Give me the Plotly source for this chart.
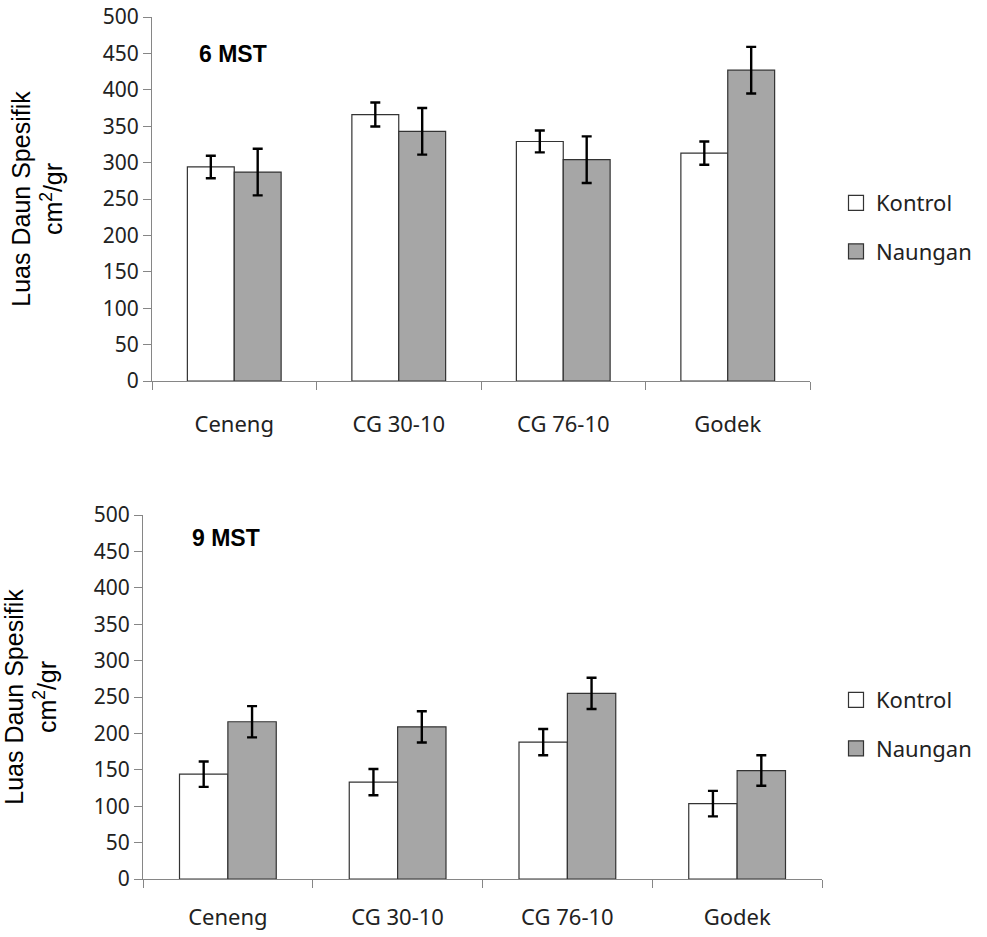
import plotly.graph_objects as go

categories = ["Ceneng", "CG 30-10", "CG 76-10", "Godek"]

# 6 MST (weeks after planting)
kontrol_6 = [294, 366, 329, 313]
kontrol_6_err = [15.5, 16.5, 15, 16]
naungan_6 = [287, 343, 304, 427]
naungan_6_err = [32, 32, 32, 32]

# 9 MST
kontrol_9 = [144, 133, 188, 103.5]
kontrol_9_err = [17.5, 18, 18, 17.5]
naungan_9 = [216, 209, 255, 149]
naungan_9_err = [21.5, 21.5, 21.5, 21]

y_ticks = list(range(0, 501, 50))
panel_labels = ["6 MST", "9 MST"]
series_names = ["Kontrol", "Naungan"]

W, H = 987, 937
WHITE = "#FFFFFF"
GREY = "#A6A6A6"
AXIS_GREY = "#868686"
EDGE = "#333333"
SANS = "Noto Sans, Open Sans, sans-serif"
ARIAL = "Liberation Sans, Arial, sans-serif"

fig = go.Figure()

panels = [
    (kontrol_6, kontrol_6_err, naungan_6, naungan_6_err, "x", "y", "legend"),
    (kontrol_9, kontrol_9_err, naungan_9, naungan_9_err, "x2", "y2", "legend2"),
]

for k_vals, k_err, n_vals, n_err, xa, ya, leg in panels:
    for name, vals, errs, fill in [
        (series_names[0], k_vals, k_err, WHITE),
        (series_names[1], n_vals, n_err, GREY),
    ]:
        fig.add_trace(go.Bar(
            x=categories, y=vals, name=name,
            xaxis=xa, yaxis=ya, showlegend=False,
            marker=dict(color=fill, line=dict(color=EDGE, width=1.2)),
            error_y=dict(type="data", array=errs, visible=True,
                         color="#000000", thickness=2.4, width=5),
        ))
    # legend keys with a larger square swatch
    for i, (name, fill) in enumerate([(series_names[0], WHITE), (series_names[1], GREY)]):
        fig.add_trace(go.Scatter(
            x=[None], y=[None], mode="markers", name=name,
            xaxis=xa, yaxis=ya, legend=leg, legendgroup=f"{xa}{i}",
            marker=dict(symbol="square", size=15, color=fill,
                        line=dict(color=EDGE, width=1.2)),
        ))

# Pixel geometry of the two plot areas (left, right, top, bottom)
boxes = [(152, 810, 17, 381), (143, 822, 515, 879)]


def xdom(b):
    return [b[0] / W, b[1] / W]


def ydom(b):
    return [1 - b[3] / H, 1 - b[2] / H]


def x_axis(dom, anchor, standoff):
    return dict(
        domain=dom, anchor=anchor, automargin=False,
        showline=True, linecolor=AXIS_GREY, linewidth=1.2,
        ticks="outside", ticklen=8, tickcolor=AXIS_GREY, tickwidth=1.2,
        tickson="boundaries", showgrid=False, zeroline=False,
        tickfont=dict(family=SANS, size=22, color="#222222"),
        ticklabelstandoff=standoff,
    )


def y_axis(dom, anchor):
    return dict(
        domain=dom, anchor=anchor, automargin=False,
        range=[0, 500], tickvals=y_ticks, showline=True, linecolor=AXIS_GREY,
        linewidth=1.2, ticks="outside", ticklen=8, tickcolor=AXIS_GREY,
        tickwidth=1.2, showgrid=False, zeroline=False,
        tickfont=dict(family=SANS, size=21, color="#222222"),
        title=dict(text="Luas Daun Spesifik<br>cm<sup>2</sup>/gr",
                   font=dict(family=ARIAL, size=25, color="#000000"),
                   standoff=32),
    )


fig.update_layout(
    width=W, height=H,
    margin=dict(l=0, r=0, t=0, b=0),
    paper_bgcolor="white", plot_bgcolor="white",
    barmode="group", bargap=0.43, bargroupgap=0,
    showlegend=True,
    xaxis=x_axis(xdom(boxes[0]), "y", 23),
    yaxis=y_axis(ydom(boxes[0]), "x"),
    xaxis2=x_axis(xdom(boxes[1]), "y2", 18),
    yaxis2=y_axis(ydom(boxes[1]), "x2"),
)

legend_style = dict(
    font=dict(family=SANS, size=22, color="#222222"),
    bgcolor="rgba(0,0,0,0)", borderwidth=0,
    traceorder="grouped", tracegroupgap=17,
    itemwidth=30, xanchor="left", yanchor="top",
)
fig.update_layout(
    legend=dict(x=836 / W, y=1 - 182 / H, **legend_style),
    legend2=dict(x=836 / W, y=1 - 679 / H, **legend_style),
)

# Panel labels inside each plot area
label_pos = [(197, 54), (190, 538)]
for i, (label, b, (lx, ly)) in enumerate(zip(panel_labels, boxes, label_pos)):
    ref = "" if i == 0 else "2"
    fig.add_annotation(
        text=f"<b>{label}</b>", xref=f"x{ref} domain", yref=f"y{ref} domain",
        x=(lx - b[0]) / (b[1] - b[0]),
        y=1 - (ly - b[2]) / (b[3] - b[2]),
        xanchor="left", yanchor="middle", showarrow=False,
        font=dict(family=ARIAL, size=23, color="#000000"),
    )

fig.write_html("out.html")
